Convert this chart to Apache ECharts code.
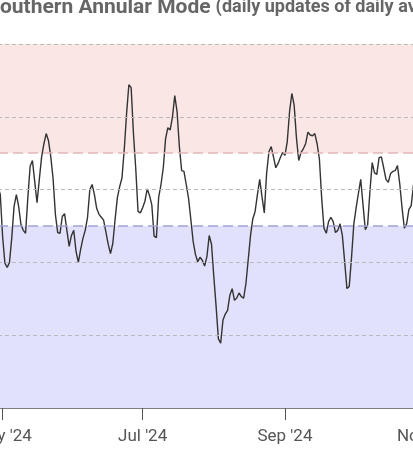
<!DOCTYPE html>
<html>
<head>
<meta charset="utf-8">
<script src="https://cdn.jsdelivr.net/npm/echarts@6/dist/echarts.min.js"></script>
<style>
html,body{margin:0;padding:0;background:#fff;}
#chart{width:413px;height:455px;}
</style>
</head>
<body>
<div id="chart"></div>
<script>
// First date of the category axis (daily), and last date on the axis
var startDate = '2024-04-29';
var endDate = '2024-11-01';
// Daily SAM index values, starting 2024-04-29
var samValues = [
  0.04,-0.07,
  -0.64,-1.01,-1.07,-1.00,-0.66,-0.23,-0.07,-0.23,-0.48,-0.56,
  -0.60,-0.11,0.32,0.40,0.11,-0.18,0.14,0.45,0.63,0.77,
  0.67,0.45,0.15,-0.34,-0.59,-0.60,-0.37,-0.33,-0.56,-0.78,
  -0.63,-0.56,-0.85,-1.00,-0.82,-0.67,-0.56,-0.38,0.00,0.07,
  -0.07,-0.26,-0.34,-0.38,-0.42,-0.58,-0.75,-0.88,-0.74,-0.41,
  -0.11,0.04,0.16,0.55,1.04,1.44,1.40,0.77,0.29,-0.30,
  -0.32,-0.25,-0.16,0.01,-0.08,-0.21,-0.64,-0.66,-0.10,0.07,
  0.30,0.70,0.85,0.82,1.00,1.29,1.07,0.59,0.26,0.25,
  0.07,-0.12,-0.41,-0.71,-0.89,-0.99,-0.93,-0.97,-1.05,-0.92,
  -0.63,-0.75,-1.19,-1.60,-2.05,-2.11,-1.79,-1.71,-1.66,-1.45,
  -1.36,-1.52,-1.49,-1.42,-1.47,-1.49,-1.29,-0.96,-0.63,-0.40,
  -0.30,-0.07,0.14,-0.10,-0.32,0.22,0.52,0.59,0.45,0.30,
  0.36,0.44,0.51,0.47,0.66,1.07,1.32,1.16,0.71,0.40,
  0.51,0.56,0.63,0.79,0.75,0.74,0.77,0.63,0.42,-0.12,
  -0.53,-0.60,-0.44,-0.38,-0.44,-0.59,-0.56,-0.47,-0.63,-0.99,
  -1.36,-1.33,-0.93,-0.47,-0.25,-0.05,0.14,-0.21,-0.55,-0.49,
  -0.03,0.37,0.23,0.21,0.44,0.45,0.30,0.14,0.10,0.22,
  0.25,0.26,0.33,0.08,-0.25,-0.53,-0.47,-0.27,-0.22,0.07,
  0.18
];
// Y gridline values and threshold lines
var gridValues = [-2, -1, 0, 1, 2];
var positiveThreshold = 0.5;
var negativeThreshold = -0.5;
var yMin = -3, yMax = 2;
var monthNames = ['Jan','Feb','Mar','Apr','May','Jun','Jul','Aug','Sep','Oct','Nov','Dec'];
var tickMonths = [0, 2, 4, 6, 8, 10];

// build daily categories
var dates = [];
(function(){
  var d = new Date(startDate + 'T00:00:00Z');
  var e = new Date(endDate + 'T00:00:00Z');
  while (d <= e) {
    dates.push(d.toISOString().slice(0,10));
    d = new Date(d.getTime() + 86400000);
  }
})();

function isTick(index, value) {
  var v = value || dates[index];
  var m = parseInt(v.slice(5,7),10) - 1;
  var day = parseInt(v.slice(8,10),10);
  return day === 1 && tickMonths.indexOf(m) >= 0;
}

var markLines = [];
gridValues.forEach(function(v){
  markLines.push({yAxis: v, lineStyle: {color: '#b9b9b9', type: [4,3], width: 1}});
});
markLines.push({yAxis: positiveThreshold, lineStyle: {color: '#e2b8b8', type: [10,5], width: 1.5}});
markLines.push({yAxis: negativeThreshold, lineStyle: {color: '#a2a2d2', type: [10,5], width: 1.5}});

var chart = echarts.init(document.getElementById('chart'));
chart.setOption({
  animation: false,
  backgroundColor: '#fff',
  title: {
    text: '{a|Southern Annular Mode} {b|(daily updates of daily averages)}',
    left: -13,
    top: -3,
    padding: 0,
    textStyle: {
      rich: {
        a: {fontFamily: 'Roboto', fontSize: 21, fontWeight: 'bold', color: '#666'},
        b: {fontFamily: 'Roboto', fontSize: 18, fontWeight: 'bold', color: '#666'}
      }
    }
  },
  grid: {left: -2, right: -12, top: 44, bottom: 47, containLabel: false, outerBoundsMode: 'none'},
  xAxis: {
    type: 'category',
    data: dates,
    boundaryGap: false,
    axisLine: {onZero: false, lineStyle: {color: '#555', width: 1.5}},
    axisTick: {show: true, interval: isTick, length: 12, lineStyle: {color: '#555', width: 1}},
    axisLabel: {
      interval: isTick,
      margin: 20,
      fontFamily: 'Roboto',
      fontSize: 17,
      color: '#555',
      formatter: function(v){
        var m = parseInt(v.slice(5,7),10) - 1;
        return monthNames[m] + " '" + v.slice(2,4);
      }
    },
    splitLine: {show: false}
  },
  yAxis: {
    type: 'value',
    min: yMin, max: yMax, interval: 1,
    axisLabel: {show: false},
    axisLine: {show: false},
    axisTick: {show: false},
    splitLine: {show: false}
  },
  series: [{
    type: 'line',
    data: samValues,
    showSymbol: false,
    symbol: 'none',
    lineStyle: {color: '#333', width: 1.4},
    markArea: {
      silent: true,
      data: [
        [{yAxis: positiveThreshold, itemStyle: {color: '#fbe6e6'}}, {yAxis: yMax}],
        [{yAxis: yMin, itemStyle: {color: '#e1e1fb'}}, {yAxis: negativeThreshold}]
      ]
    },
    markLine: {
      silent: true,
      symbol: 'none',
      label: {show: false},
      data: markLines
    }
  }]
});
</script>
</body>
</html>
